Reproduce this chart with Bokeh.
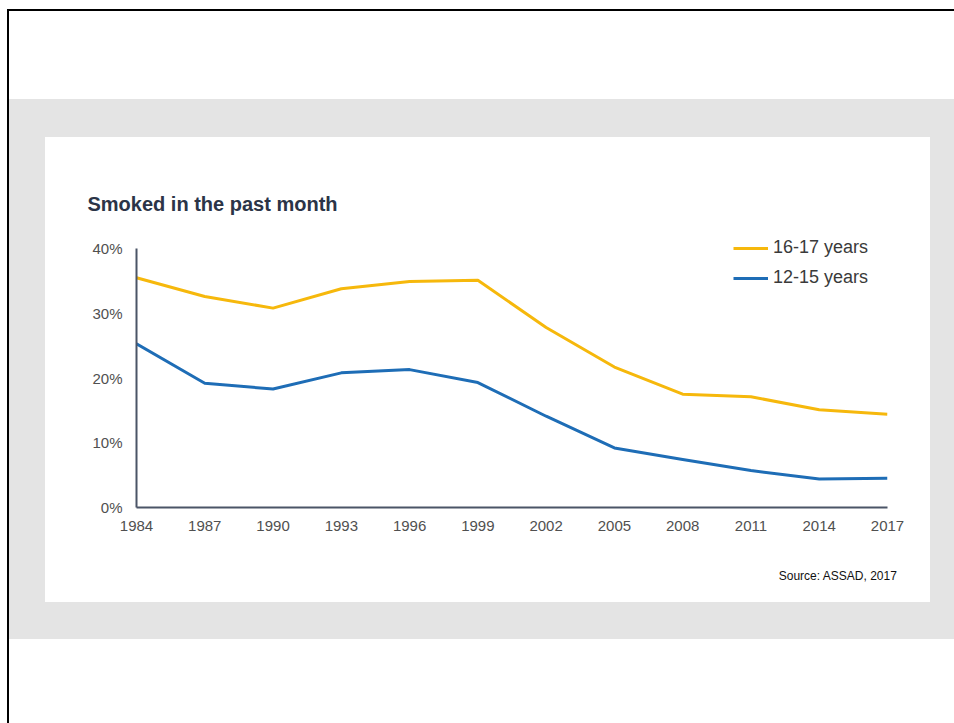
from bokeh.plotting import figure
from bokeh.models import (Range1d, FixedTicker, PrintfTickFormatter, Legend, LegendItem, Title)
from bokeh.embed import file_html
from bokeh.resources import INLINE

# ---- data ----
years = [1984, 1987, 1990, 1993, 1996, 1999, 2002, 2005, 2008, 2011, 2014, 2017]
age_16_17 = [35.5, 32.6, 30.8, 33.8, 34.9, 35.1, 27.8, 21.7, 17.5, 17.1, 15.1, 14.4]
age_12_15 = [25.3, 19.2, 18.3, 20.8, 21.3, 19.3, 14.1, 9.2, 7.4, 5.7, 4.4, 4.5]
y_ticks = [0, 10, 20, 30, 40]
series_names = ["16-17 years", "12-15 years"]
title_text = "Smoked in the past month"
source_text = "Source: ASSAD, 2017"

YELLOW = "#f6b80c"
BLUE = "#1e6db6"
AXIS = "#4b5567"
FONT = "Liberation Sans"

W, H = 954, 723
p = figure(width=W, height=H, output_backend="svg", toolbar_location=None,
           x_range=Range1d(years[0], years[-1]), y_range=Range1d(0, 43.1),
           min_border_left=136, min_border_right=67,
           min_border_top=228, min_border_bottom=216)

p.border_fill_color = None
p.background_fill_color = None
p.outline_line_color = None
p.styles = {
    "background-color": "white",
    "background-image": ("linear-gradient(#fff,#fff), linear-gradient(#e4e4e4,#e4e4e4), "
                         "linear-gradient(#fff,#fff), linear-gradient(#000,#000)"),
    "background-position": "45px 137px, 9px 99px, 9px 11px, 7px 9px",
    "background-size": "885px 465px, 945px 540px, 945px 712px, 947px 714px",
    "background-repeat": "no-repeat",
}

p.xgrid.visible = False
p.ygrid.visible = False

# axes
p.xaxis.ticker = FixedTicker(ticks=years)
p.yaxis.ticker = FixedTicker(ticks=y_ticks)
p.yaxis.formatter = PrintfTickFormatter(format="%d%%")
p.yaxis.bounds = (y_ticks[0], y_ticks[-1])
for ax in (p.xaxis, p.yaxis):
    ax.axis_line_color = AXIS
    ax.axis_line_width = 2
    ax.major_tick_line_color = None
    ax.minor_tick_line_color = None
    ax.major_tick_out = 0
    ax.major_tick_in = 0
    ax.major_label_text_font = FONT
    ax.major_label_text_font_size = "15px"
    ax.major_label_text_color = "#505050"
p.yaxis.major_label_standoff = 14
p.xaxis.major_label_standoff = 13

# lines
r1 = p.line(years, age_16_17, line_color=YELLOW, line_width=3, line_join="round")
r2 = p.line(years, age_12_15, line_color=BLUE, line_width=3, line_join="round")

legend = Legend(items=[LegendItem(label=series_names[0], renderers=[r1]),
                       LegendItem(label=series_names[1], renderers=[r2])],
                location=(597, 219))
legend.glyph_width = 35
legend.glyph_height = 20
legend.label_height = 20
legend.label_standoff = 5
legend.spacing = 9
legend.padding = 0
legend.margin = 0
legend.background_fill_alpha = 0
legend.border_line_alpha = 0
legend.label_text_font = FONT
legend.label_text_font_size = "18px"
legend.label_text_color = "#3a3a3a"
p.add_layout(legend)

# title
p.title.text = title_text
p.title.text_font = FONT
p.title.text_font_size = "20px"
p.title.text_font_style = "bold"
p.title.text_color = "#2b3447"
p.title.align = "left"
p.title.offset = -49
p.title.standoff = 28

src = Title(text=source_text, align="right", text_font=FONT, text_font_size="12px",
            text_font_style="normal", text_color="#111111", standoff=66, offset=-10)
p.add_layout(src, "below")

open("out.html", "w").write(file_html(p, INLINE))
